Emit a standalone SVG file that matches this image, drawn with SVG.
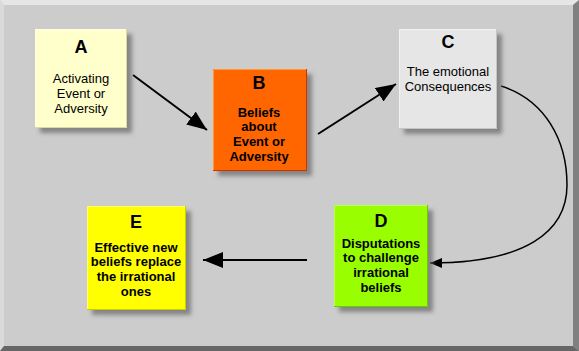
<svg xmlns="http://www.w3.org/2000/svg" width="579" height="351" viewBox="0 0 579 351">
<defs>
<filter id="sh" x="-20%" y="-20%" width="150%" height="150%">
<feDropShadow dx="5" dy="5" stdDeviation="2.2" flood-color="#666" flood-opacity="0.7"/>
</filter>
<marker id="ah" viewBox="0 0 20 16" refX="20" refY="8" markerWidth="20" markerHeight="16" markerUnits="userSpaceOnUse" orient="auto">
<path d="M0,0 L20,8 L0,16 Z" fill="#000"/>
</marker>
<marker id="ahs" viewBox="0 0 12 10" refX="12" refY="5" markerWidth="12" markerHeight="10" markerUnits="userSpaceOnUse" orient="auto">
<path d="M0,0 L12,5 L0,10 Z" fill="#000"/>
</marker>
</defs>
<style>
.t{font-family:"Liberation Sans",Arial,sans-serif;text-anchor:middle;fill:#000}
.h{font-size:18px;font-weight:bold}
.r{font-size:13px}
.b{font-size:13px;font-weight:bold}
.ln{stroke:#000;fill:none}
</style>
<rect x="0" y="0" width="579" height="351" fill="#cccccc"/>
<polygon points="0,0 579,0 573,5 4,5" fill="#e6e6e6"/>
<polygon points="0,0 4,5 4,346 0,351" fill="#dadada"/>
<polygon points="579,0 579,351 573,346 573,5" fill="#808080"/>
<polygon points="0,351 579,351 573,346 4,346" fill="#666666"/>

<g id="connectors">
<line class="ln" x1="133" y1="75" x2="207" y2="130" stroke-width="2" marker-end="url(#ah)"/>
<line class="ln" x1="318" y1="134" x2="396" y2="84" stroke-width="2" marker-end="url(#ah)"/>
<path class="ln" d="M501,86 C545,100 567,140 567,185 C567,232 525,263 430,263" stroke-width="1.5" marker-end="url(#ahs)"/>
<line class="ln" x1="307" y1="260" x2="203" y2="260" stroke-width="2" marker-end="url(#ah)"/>
</g>

<g id="nodeA">
<rect x="35" y="29" width="92" height="99" fill="#ffffcc" filter="url(#sh)"/>
<path d="M35.5,128 V29.5 H127" stroke="#ffffe6" fill="none"/>
<path d="M35,127.5 H126.5 V29" stroke="#d9d9a6" fill="none"/>
<text class="t h" x="81" y="53">A</text>
<text class="t r" x="81" y="83">Activating</text>
<text class="t r" x="81" y="98">Event or</text>
<text class="t r" x="81" y="113">Adversity</text>
</g>

<g id="nodeB">
<rect x="213" y="69" width="94" height="102" fill="#ff6600" filter="url(#sh)"/>
<path d="M213.5,171 V69.5 H307" stroke="#ff9933" fill="none"/>
<path d="M213,170.5 H306.5 V69" stroke="#cc3300" fill="none"/>
<text class="t h" x="259" y="89">B</text>
<text class="t b" x="259" y="117">Beliefs</text>
<text class="t b" x="259" y="131">about</text>
<text class="t b" x="259" y="146">Event or</text>
<text class="t b" x="259" y="161">Adversity</text>
</g>

<g id="nodeC">
<rect x="399" y="29" width="98" height="100" fill="#e6e6e6" filter="url(#sh)"/>
<path d="M399.5,129 V29.5 H497" stroke="#f2f2f2" fill="none"/>
<path d="M399,128.5 H496.5 V29" stroke="#c4c4c4" fill="none"/>
<text class="t h" x="448" y="48">C</text>
<text class="t r" x="448" y="76">The emotional</text>
<text class="t r" x="448" y="91">Consequences</text>
</g>

<g id="nodeD">
<rect x="334" y="205" width="94" height="102" fill="#99ff00" filter="url(#sh)"/>
<path d="M334.5,307 V205.5 H428" stroke="#bbff55" fill="none"/>
<path d="M334,306.5 H427.5 V205" stroke="#66cc00" fill="none"/>
<text class="t h" x="381" y="227">D</text>
<text class="t b" x="381" y="248">Disputations</text>
<text class="t b" x="381" y="262">to challenge</text>
<text class="t b" x="381" y="277">irrational</text>
<text class="t b" x="381" y="292">beliefs</text>
</g>

<g id="nodeE">
<rect x="87" y="206" width="99" height="104" fill="#ffff00" filter="url(#sh)"/>
<path d="M87.5,310 V206.5 H186" stroke="#ffff66" fill="none"/>
<path d="M87,309.5 H185.5 V206" stroke="#cccc00" fill="none"/>
<text class="t h" x="136" y="228">E</text>
<text class="t b" x="136" y="252">Effective new</text>
<text class="t b" x="136" y="266">beliefs replace</text>
<text class="t b" x="136" y="281">the irrational</text>
<text class="t b" x="136" y="296">ones</text>
</g>
</svg>
